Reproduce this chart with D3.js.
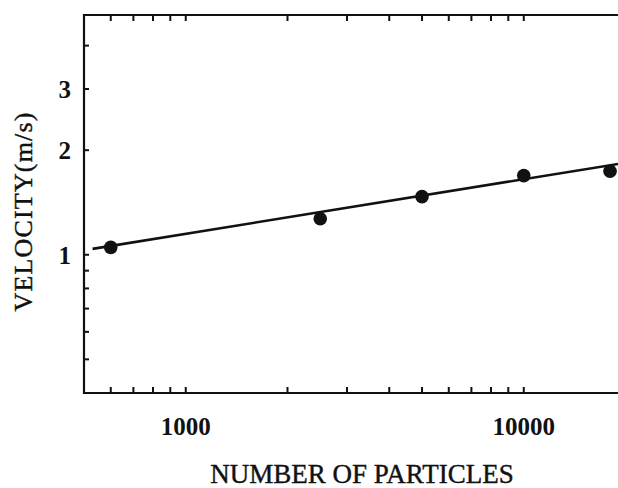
<!DOCTYPE html>
<html>
<head>
<meta charset="utf-8">
<script src="https://cdn.jsdelivr.net/npm/d3@7"></script>
<style>
  html, body { margin: 0; padding: 0; background: #fff; }
  svg { display: block; }
  text { font-family: "Liberation Serif", "DejaVu Serif", serif; fill: #111; }
</style>
</head>
<body>
<svg id="chart" width="618" height="488"></svg>
<script>
// Measured velocities against particle count
const particles = [600, 2500, 5000, 10000, 18000];
const velocity  = [1.05, 1.27, 1.47, 1.69, 1.74];

// Power-law fit drawn as a straight line on log-log axes
const fitParticles = [530, 20000];
const fitVelocity  = [1.04, 1.84];

// Axis ticks
const xMajorTicks = [1000, 10000];
const xMinorTicks = [600, 700, 800, 900, 1000, 2000, 3000, 4000, 5000, 6000, 7000, 8000, 9000, 10000];
const yLabelTicks = [1, 2, 3];
const yMinorTicks = [0.5, 0.6, 0.7, 0.8, 0.9, 1, 2, 3, 4];

const xTitle = "NUMBER OF PARTICLES";
const yTitle = "VELOCITY(m/s)";

const svg = d3.select("#chart");
const plotLeft = 84, plotTop = 15, plotBottom = 393;

const x = d3.scaleLog().domain([500, 20000]).range([plotLeft, 625.5]);
const y = d3.scaleLog().domain([0.4, 4.9]).range([plotBottom, plotTop]);

const ink = "#111";

// frame: left, bottom, top (the right side runs past the page edge)
const g = svg.append("g");
g.append("path")
  .attr("d", `M${x.range()[1] + 10},${plotTop} H${plotLeft} V${plotBottom} H${x.range()[1] + 10}`)
  .attr("fill", "none").attr("stroke", ink).attr("stroke-width", 2.2);

// inward ticks on bottom and top
const tickLen = 6;
g.selectAll(".xtb").data(xMinorTicks).join("line")
  .attr("x1", d => x(d)).attr("x2", d => x(d))
  .attr("y1", plotBottom).attr("y2", plotBottom - tickLen)
  .attr("stroke", ink).attr("stroke-width", 2);
g.selectAll(".xtt").data(xMinorTicks).join("line")
  .attr("x1", d => x(d)).attr("x2", d => x(d))
  .attr("y1", plotTop).attr("y2", plotTop + tickLen)
  .attr("stroke", ink).attr("stroke-width", 2);

// inward ticks on the left axis
g.selectAll(".ytl").data(yMinorTicks).join("line")
  .attr("x1", plotLeft).attr("x2", plotLeft + 5)
  .attr("y1", d => y(d)).attr("y2", d => y(d))
  .attr("stroke", ink).attr("stroke-width", 2);

// tick labels
g.selectAll(".xl").data(xMajorTicks).join("text")
  .attr("x", d => x(d)).attr("y", 435)
  .attr("text-anchor", "middle")
  .attr("font-size", 25).attr("font-weight", "bold")
  .text(d => d3.format("d")(d));

g.selectAll(".yl").data(yLabelTicks).join("text")
  .attr("x", 71).attr("y", d => y(d))
  .attr("dy", "0.35em")
  .attr("text-anchor", "end")
  .attr("font-size", 25).attr("font-weight", "bold")
  .text(d => d);

// axis titles
svg.append("text")
  .attr("x", 362).attr("y", 483)
  .attr("text-anchor", "middle")
  .attr("font-size", 27)
  .attr("stroke", ink).attr("stroke-width", 0.4)
  .text(xTitle);

svg.append("text")
  .attr("transform", "translate(32,212) rotate(-90)")
  .attr("text-anchor", "middle")
  .attr("font-size", 26)
  .attr("textLength", 199).attr("lengthAdjust", "spacing")
  .attr("stroke", ink).attr("stroke-width", 0.4)
  .text(yTitle);

// fit line
const line = d3.line().x(d => x(d[0])).y(d => y(d[1]));
g.append("path")
  .datum(d3.zip(fitParticles, fitVelocity))
  .attr("d", line)
  .attr("fill", "none").attr("stroke", ink).attr("stroke-width", 2.6);

// data points
g.selectAll(".pt").data(d3.zip(particles, velocity)).join("circle")
  .attr("cx", d => x(d[0])).attr("cy", d => y(d[1]))
  .attr("r", 6.8).attr("fill", ink);
</script>
</body>
</html>
